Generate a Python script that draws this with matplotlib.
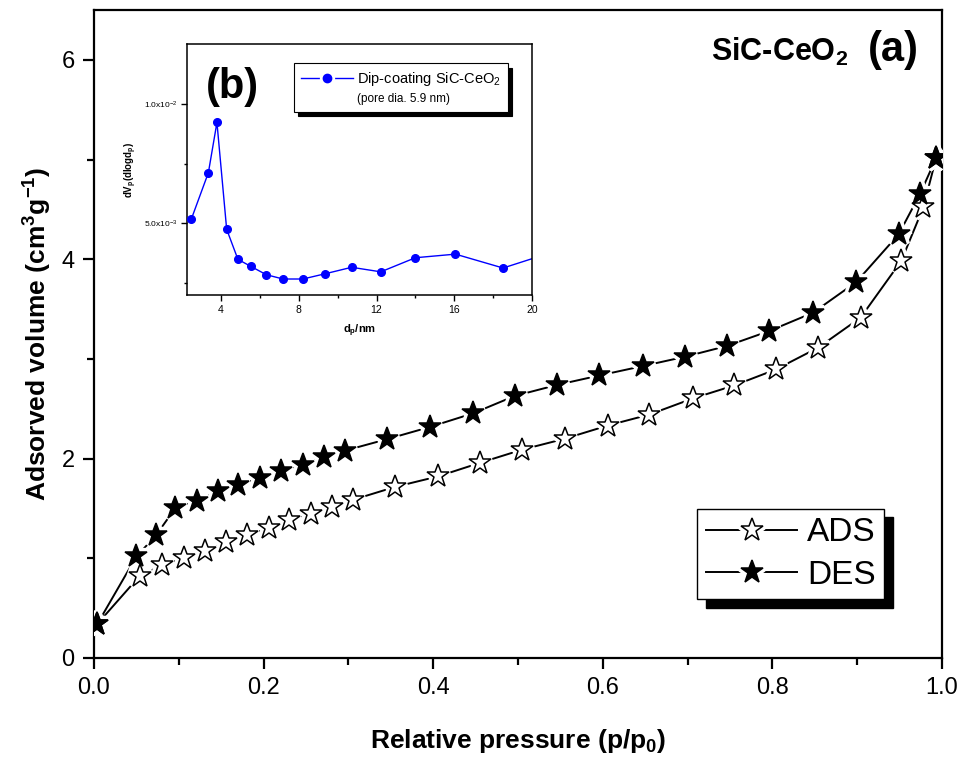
import numpy as np
import matplotlib
matplotlib.use("Agg")
import matplotlib.pyplot as plt
from matplotlib.lines import Line2D
from matplotlib.legend_handler import HandlerTuple

plt.rcParams["font.family"] = ["Liberation Sans", "DejaVu Sans"]
plt.rcParams["mathtext.fontset"] = "custom"
plt.rcParams["mathtext.rm"] = "Liberation Sans"
plt.rcParams["mathtext.bf"] = "Liberation Sans:bold"
plt.rcParams["mathtext.it"] = "Liberation Sans:italic"

# ---- isotherm (a) -------------------------------------------------------
ads_p = [0.004, 0.054, 0.080, 0.106, 0.131, 0.156, 0.181, 0.206, 0.230, 0.256,
         0.281, 0.306, 0.355, 0.406, 0.455, 0.505, 0.555, 0.606, 0.655, 0.706,
         0.755, 0.804, 0.854, 0.904, 0.952, 0.978, 0.993]
ads_v = [0.342, 0.824, 0.928, 1.002, 1.078, 1.159, 1.236, 1.304, 1.387, 1.447,
         1.513, 1.588, 1.716, 1.822, 1.957, 2.090, 2.199, 2.332, 2.442, 2.603,
         2.734, 2.894, 3.113, 3.414, 3.983, 4.520, 5.012]

des_p = [0.004, 0.050, 0.073, 0.096, 0.121, 0.146, 0.170, 0.196, 0.220, 0.246,
         0.271, 0.296, 0.346, 0.396, 0.447, 0.496, 0.546, 0.596, 0.647, 0.697,
         0.746, 0.796, 0.848, 0.899, 0.949, 0.974, 0.993]
des_v = [0.342, 1.018, 1.229, 1.505, 1.578, 1.671, 1.739, 1.806, 1.872, 1.940,
         2.020, 2.080, 2.196, 2.317, 2.454, 2.628, 2.739, 2.834, 2.928, 3.022,
         3.129, 3.279, 3.464, 3.772, 4.251, 4.653, 5.012]

# ---- pore size distribution (b) -----------------------------------------
dp = [2.47, 3.35, 3.79, 4.29, 4.87, 5.53, 6.33, 7.19, 8.21, 9.36, 10.72,
      12.22, 14.0, 16.06, 18.51, 21.0]
dv = [0.00517, 0.00712, 0.00922, 0.00475, 0.00349, 0.00320, 0.00285, 0.00267,
      0.00267, 0.00289, 0.00316, 0.00297, 0.00356, 0.00371, 0.00313, 0.00378]

fig = plt.figure(figsize=(9.61, 7.59), dpi=100)
ax = fig.add_axes([0.0978, 0.1331, 0.8824, 0.8537])


def star_series(ax, x, y, fill):
    ln, = ax.plot(x, y, "-", color="black", lw=1.4, zorder=2)
    halo, = ax.plot(x, y, ls="none", marker="*", ms=17, mfc="white",
                    mec="white", mew=6, zorder=3)
    mk, = ax.plot(x, y, ls="none", marker="*", ms=17, mfc=fill,
                  mec="black", mew=1.1, zorder=4)
    return (ln, halo, mk)


h_ads = star_series(ax, ads_p, ads_v, "white")
h_des = star_series(ax, des_p, des_v, "black")

ax.set_xlim(0, 1.0)
ax.set_ylim(0, 6.5)
ax.set_xticks(np.arange(0, 1.01, 0.2))
ax.set_xticks(np.arange(0.1, 1.0, 0.2), minor=True)
ax.set_yticks([0, 2, 4, 6])
ax.set_yticks([1, 3, 5], minor=True)
ax.tick_params(which="both", direction="out", top=False, right=False,
               width=1.6, labelsize=17)
ax.tick_params(which="major", length=8, pad=6)
ax.tick_params(which="minor", length=5)
for s in ax.spines.values():
    s.set_linewidth(1.6)

ax.set_xlabel(r"Relative pressure (p/p$_\mathbf{0}$)", fontsize=19,
              fontweight="bold", labelpad=20)
ax.set_ylabel(r"Adsorved volume (cm$^\mathbf{3}$g$^\mathbf{-1}$)", fontsize=19,
              fontweight="bold", labelpad=5)

ax.text(0.889, 0.935, r"SiC-CeO$_\mathbf{2}$", transform=ax.transAxes,
        fontsize=22, fontweight="bold", ha="right", va="center")
ax.text(0.943, 0.938, "(a)", transform=ax.transAxes,
        fontsize=30, fontweight="bold", ha="center", va="center")

leg = ax.legend([h_ads, h_des], ["ADS", "DES"],
                handler_map={tuple: HandlerTuple(ndivide=1)},
                loc="lower right", bbox_to_anchor=(0.932, 0.0906),
                borderaxespad=0, fontsize=24, handlelength=2.75,
                handletextpad=0.3, borderpad=0.25, labelspacing=0.35,
                fancybox=False, edgecolor="black", framealpha=1,
                shadow={"color": "black", "alpha": 1, "ox": 6, "oy": -6})
leg.get_frame().set_linewidth(1.0)

# ---- inset ---------------------------------------------------------------
ax_in = fig.add_axes([0.1946, 0.6113, 0.359, 0.3307])
ln_b, = ax_in.plot(dp, dv, "-", color="#0000FF", lw=1.0, zorder=2)
mk_b, = ax_in.plot(dp, dv, ls="none", marker="o", ms=5.5, color="#0000FF",
                   zorder=3)
ax_in.set_xlim(2.25, 20)
ax_in.set_ylim(0.002, 0.0125)
ax_in.set_xticks([4, 8, 12, 16, 20])
ax_in.set_xticks([6, 10, 14, 18], minor=True)
ax_in.set_yticks([0.005, 0.010])
ax_in.set_yticklabels([r"5.0x10$^{-3}$", r"1.0x10$^{-2}$"])
ax_in.set_yticks([0.0025, 0.0075], minor=True)
ax_in.tick_params(which="both", direction="out", top=False, right=False,
                  width=1.0)
ax_in.tick_params(which="major", length=4, labelsize=7.5, pad=3)
ax_in.tick_params(axis="y", which="major", labelsize=6)
ax_in.tick_params(which="minor", length=2.5)
for s in ax_in.spines.values():
    s.set_linewidth(1.1)
ax_in.set_xlabel(r"d$_\mathbf{p}$/nm", fontsize=8, fontweight="bold",
                 labelpad=6)
ax_in.set_ylabel(r"dV$_\mathbf{p}$(dlogd$_\mathbf{p}$)", fontsize=7,
                 fontweight="bold", labelpad=3)
ax_in.text(0.133, 0.829, "(b)", transform=ax_in.transAxes, fontsize=30,
           fontweight="bold", ha="center", va="center")

halo_b = Line2D([], [], ls="none", marker="o", ms=6, mfc="white",
                mec="white", mew=5)
mk_leg = Line2D([], [], ls="none", marker="o", ms=6, color="#0000FF")
blank = Line2D([], [], ls="none")
leg_in = ax_in.legend([(ln_b, halo_b, mk_leg), blank],
                      [r"Dip-coating SiC-CeO$_2$", "(pore dia. 5.9 nm)"],
                      handler_map={tuple: HandlerTuple(ndivide=1)},
                      loc="upper right", bbox_to_anchor=(0.930, 0.923),
                      borderaxespad=0, fontsize=10.5, handlelength=3.6,
                      handletextpad=0.3, borderpad=0.45, labelspacing=0.3,
                      fancybox=False, edgecolor="black", framealpha=1,
                      shadow={"color": "black", "alpha": 1, "ox": 3, "oy": -3})
leg_in.get_frame().set_linewidth(0.8)
leg_in.get_texts()[1].set_fontsize(8.5)

fig.savefig("out.png", dpi=100)
